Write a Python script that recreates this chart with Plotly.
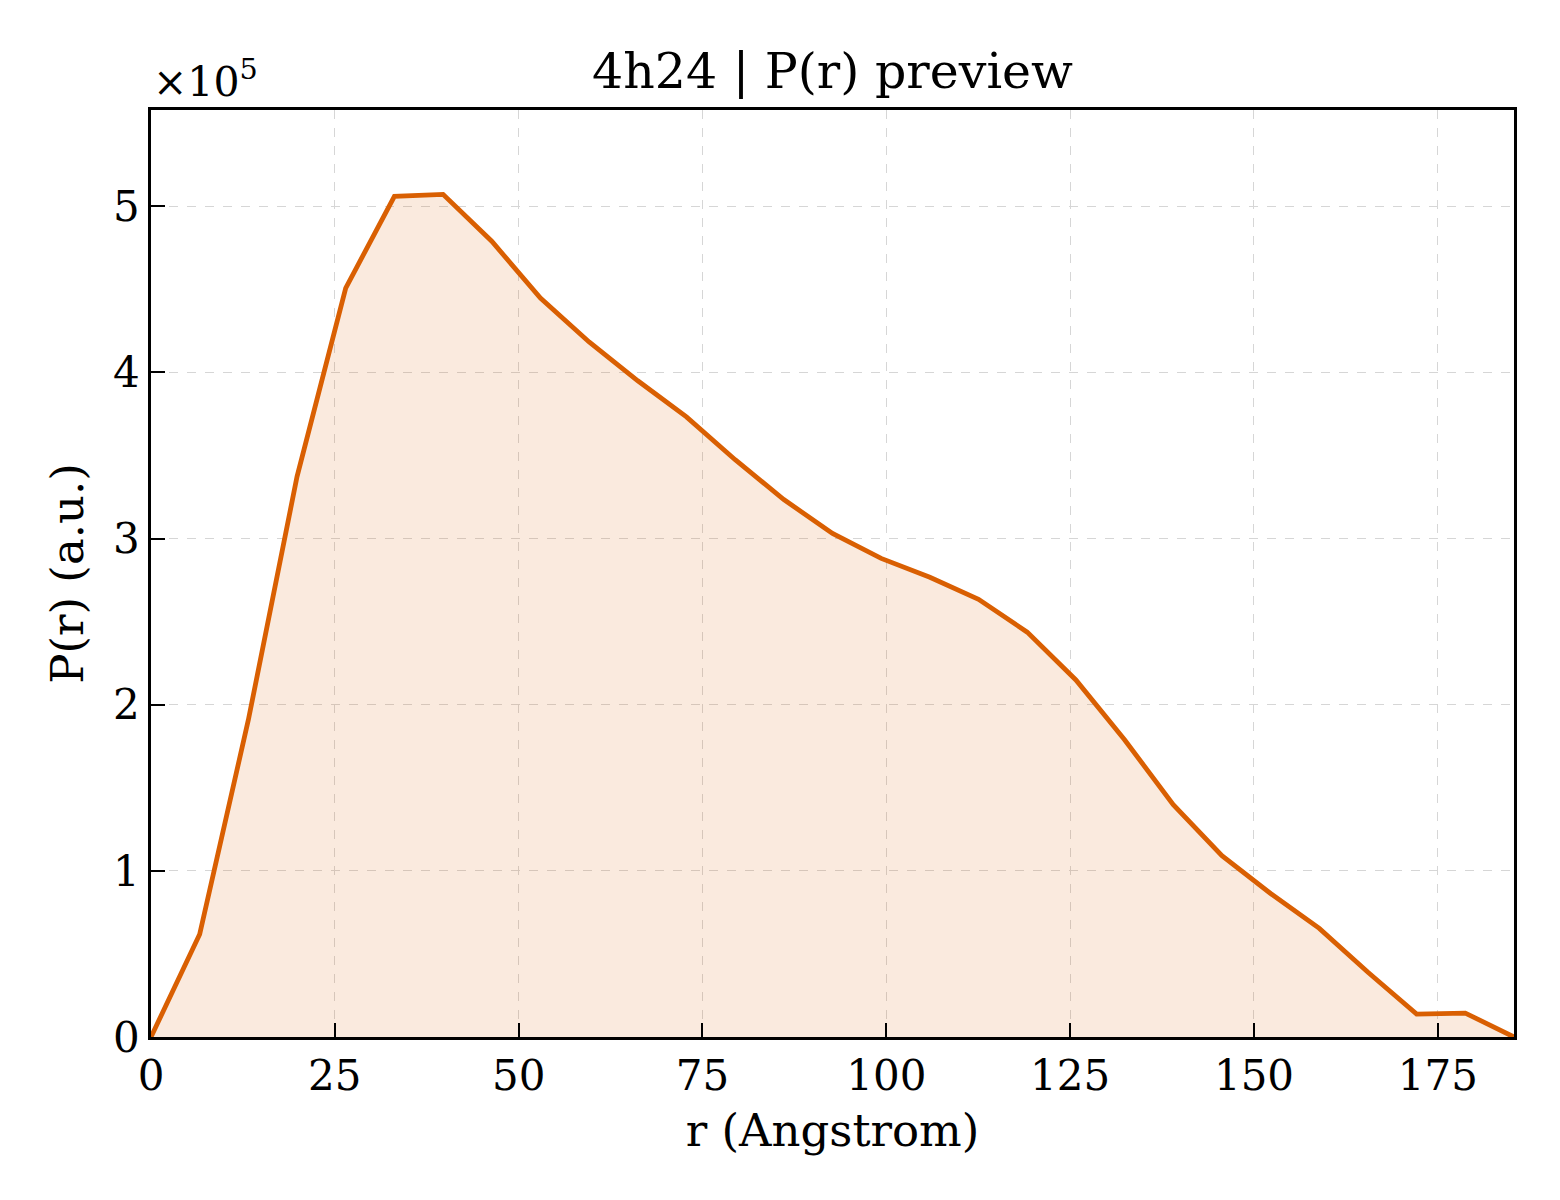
import plotly.graph_objects as go

# P(r) distribution for 4h24
r_angstrom = [0.0, 6.62, 13.24, 19.86, 26.48, 33.1, 39.72, 46.34, 52.96, 59.58,
              66.2, 72.82, 79.44, 86.06, 92.68, 99.3, 105.92, 112.54, 119.16, 125.78,
              132.4, 139.02, 145.64, 152.26, 158.88, 165.5, 172.12, 178.74, 185.36]
p_r = [0, 61800, 190900, 337300, 450800, 506000, 507200, 479000, 444800, 418400,
       395000, 373300, 347500, 323500, 303100, 288100, 276700, 263500, 243700, 214900,
       178900, 139900, 109200, 86400, 65400, 39000, 13800, 14400, 0]

y_ticks = [0, 100000, 200000, 300000, 400000, 500000]
y_labels = ["0", "1", "2", "3", "4", "5"]
x_ticks = [0, 25, 50, 75, 100, 125, 150, 175]

line_color = "#d95f02"
font = "DejaVu Serif"

fig = go.Figure()
fig.add_trace(go.Scatter(
    x=r_angstrom, y=p_r, mode="lines",
    line=dict(color=line_color, width=4.8),
    fill="tozeroy", fillcolor="rgba(217,95,2,0.13)",
    showlegend=False,
))

axis_common = dict(
    showline=True, linecolor="black", linewidth=2.8, mirror=True,
    ticks="inside", ticklen=14, tickwidth=2.4, tickcolor="black",
    showgrid=True, gridcolor="#d6d6d6", gridwidth=1.2, griddash="dash",
    zeroline=False, tickfont=dict(family=font, size=42, color="black"),
)

fig.update_xaxes(range=[0, 185.36], tickvals=x_ticks,
                 title=dict(text="r (Angstrom)", font=dict(family=font, size=45, color="black"),
                            standoff=16),
                 **axis_common)
fig.update_yaxes(range=[0, 558000], tickvals=y_ticks, ticktext=y_labels,
                 title=dict(text="P(r) (a.u.)", font=dict(family=font, size=45, color="black"),
                            standoff=16),
                 **axis_common)

fig.add_annotation(x=0, y=1, xref="paper", yref="paper", xanchor="left", yanchor="bottom",
                   text="×10<sup>5</sup>", showarrow=False, yshift=2,
                   font=dict(family=font, size=41, color="black"))

fig.update_layout(
    width=1560, height=1200,
    margin=dict(l=143, r=54, t=102, b=171),
    paper_bgcolor="white", plot_bgcolor="white",
    title=dict(text="4h24 | P(r) preview", x=0.5, xref="paper", xanchor="center",
               y=1, yref="paper", yanchor="bottom", pad=dict(b=22),
               font=dict(family=font, size=49, color="black")),
)

fig.write_html("out.html")
